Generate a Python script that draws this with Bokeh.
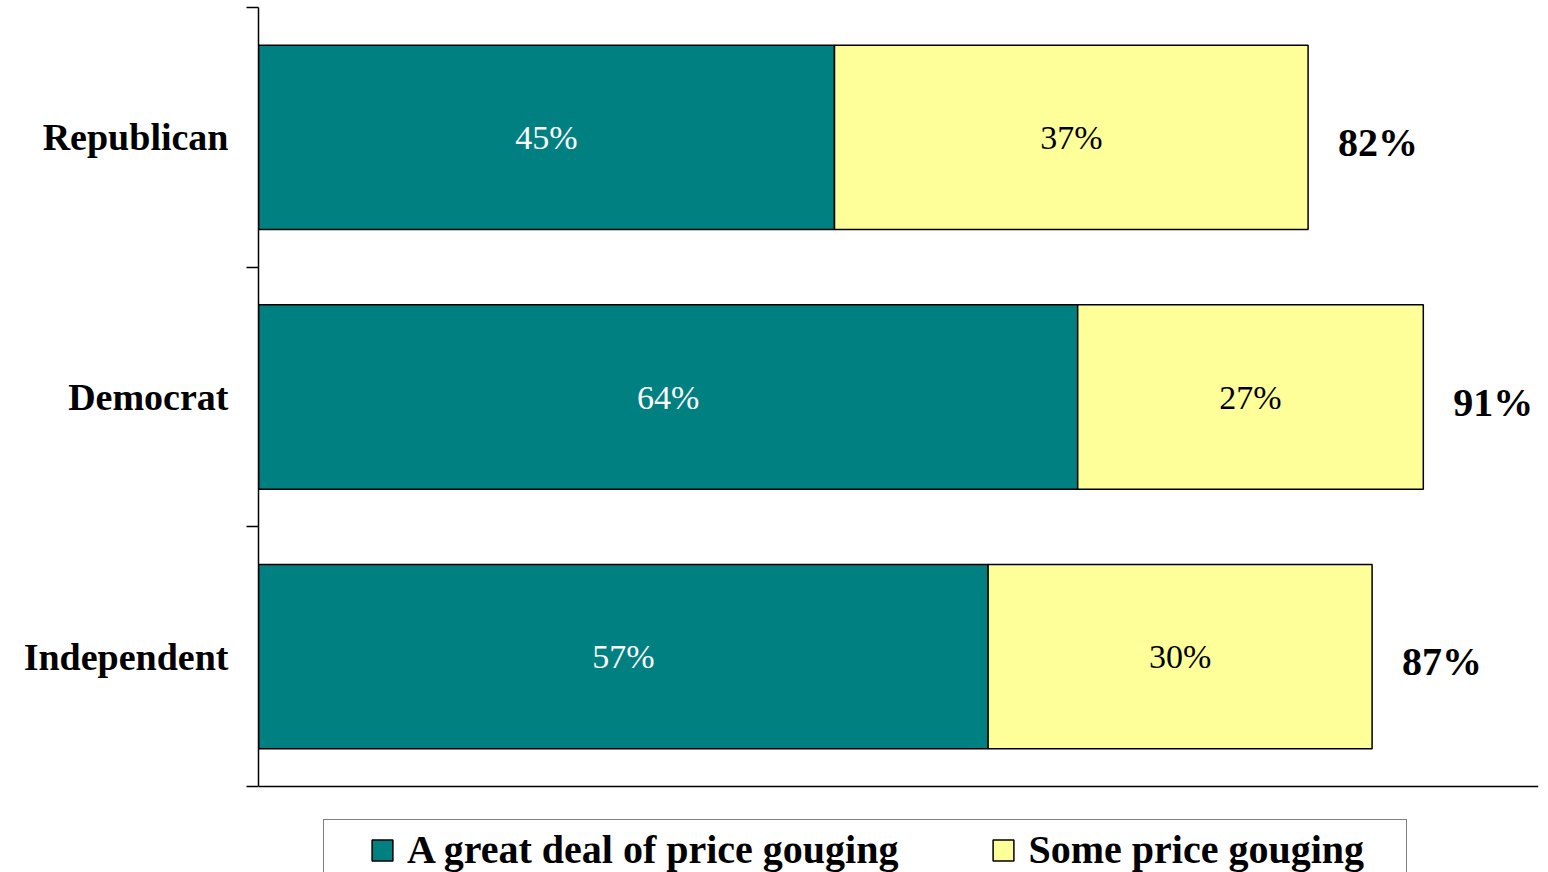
from bokeh.plotting import figure
from bokeh.models import ColumnDataSource, FixedTicker, Legend, LegendItem, Span
from bokeh.core.properties import value
from bokeh.embed import file_html
from bokeh.resources import INLINE

categories = ["Republican", "Democrat", "Independent"]
great_deal = [45, 64, 57]
some = [37, 27, 30]
totals = [82, 91, 87]
series_names = ["A great deal of price gouging", "Some price gouging"]

TEAL = "#008080"
YELLOW = "#FFFF99"
FONT = "Liberation Serif"

n = len(categories)
ypos = [n - i - 0.5 for i in range(n)]

src = ColumnDataSource(dict(
    y=ypos,
    cat=categories,
    great=great_deal,
    some=some,
    some_right=[g + s for g, s in zip(great_deal, some)],
    great_mid=[g / 2 for g in great_deal],
    some_mid=[g + s / 2 for g, s in zip(great_deal, some)],
    great_lbl=[f"{g}%" for g in great_deal],
    some_lbl=[f"{s}%" for s in some],
    total=totals,
    total_lbl=[f"{t}%" for t in totals],
))

# frame spans 7..872 px; category area (0..n) spans 7..786 px
unit = (786 - 7) / n
y_bottom = -(872 - 786) / unit

p = figure(width=1548, height=872, x_range=(0, 100), y_range=(y_bottom, n),
           output_backend="svg", toolbar_location=None,
           min_border_left=258, min_border_right=10,
           min_border_top=7, min_border_bottom=0)
p.outline_line_color = None
p.xgrid.visible = False
p.ygrid.visible = False
p.background_fill_color = "white"
p.border_fill_color = "white"

r1 = p.hbar(y="y", left=0, right="great", height=0.71, source=src,
            fill_color=TEAL, line_color="black", line_width=1.5)
r2 = p.hbar(y="y", left="great", right="some_right", height=0.71, source=src,
            fill_color=YELLOW, line_color="black", line_width=1.5)

p.text(x="great_mid", y="y", text="great_lbl", source=src,
       text_align="center", text_baseline="middle", text_color="white",
       text_font=value(FONT), text_font_size="34px")
p.text(x="some_mid", y="y", text="some_lbl", source=src,
       text_align="center", text_baseline="middle", text_color="black",
       text_font=value(FONT), text_font_size="34px")
p.text(x="total", y="y", text="total_lbl", source=src,
       text_align="left", text_baseline="middle", text_color="black",
       x_offset=30, y_offset=5,
       text_font=value(FONT), text_font_size="40px", text_font_style="bold")

# x axis: plain line at y = 0
p.xaxis.visible = False
p.add_layout(Span(location=0, dimension="width", line_color="black", line_width=1.5))

p.yaxis.bounds = (0, n)
p.yaxis.ticker = FixedTicker(ticks=ypos, minor_ticks=[float(i) for i in range(n + 1)])
p.yaxis.major_label_overrides = {y: c for y, c in zip(ypos, categories)}
p.yaxis.major_tick_line_color = None
p.yaxis.major_tick_out = 0
p.yaxis.major_tick_in = 0
p.yaxis.minor_tick_line_color = "black"
p.yaxis.minor_tick_line_width = 1.5
p.yaxis.minor_tick_out = 12
p.yaxis.minor_tick_in = 0
p.yaxis.axis_line_color = "black"
p.yaxis.axis_line_width = 1.5
p.yaxis.major_label_standoff = 18
p.yaxis.major_label_text_font = FONT
p.yaxis.major_label_text_font_size = "38px"
p.yaxis.major_label_text_font_style = "bold"
p.yaxis.major_label_text_color = "black"

legend = Legend(items=[LegendItem(label=series_names[0], renderers=[r1]),
                       LegendItem(label=series_names[1], renderers=[r2])],
                orientation="horizontal", location=(65, -8),
                title=" ", title_location="left", title_text_font_size="1px",
                title_standoff=38,
                label_text_font=FONT, label_text_font_size="40px",
                label_text_font_style="bold", label_text_color="black",
                glyph_width=26, glyph_height=26, label_standoff=12,
                label_width=372,
                spacing=92, padding=6, margin=0,
                border_line_color="black", border_line_width=1.5,
                background_fill_color="white", background_fill_alpha=1.0)
p.add_layout(legend, "center")

open("out.html", "w").write(file_html(p, INLINE))
